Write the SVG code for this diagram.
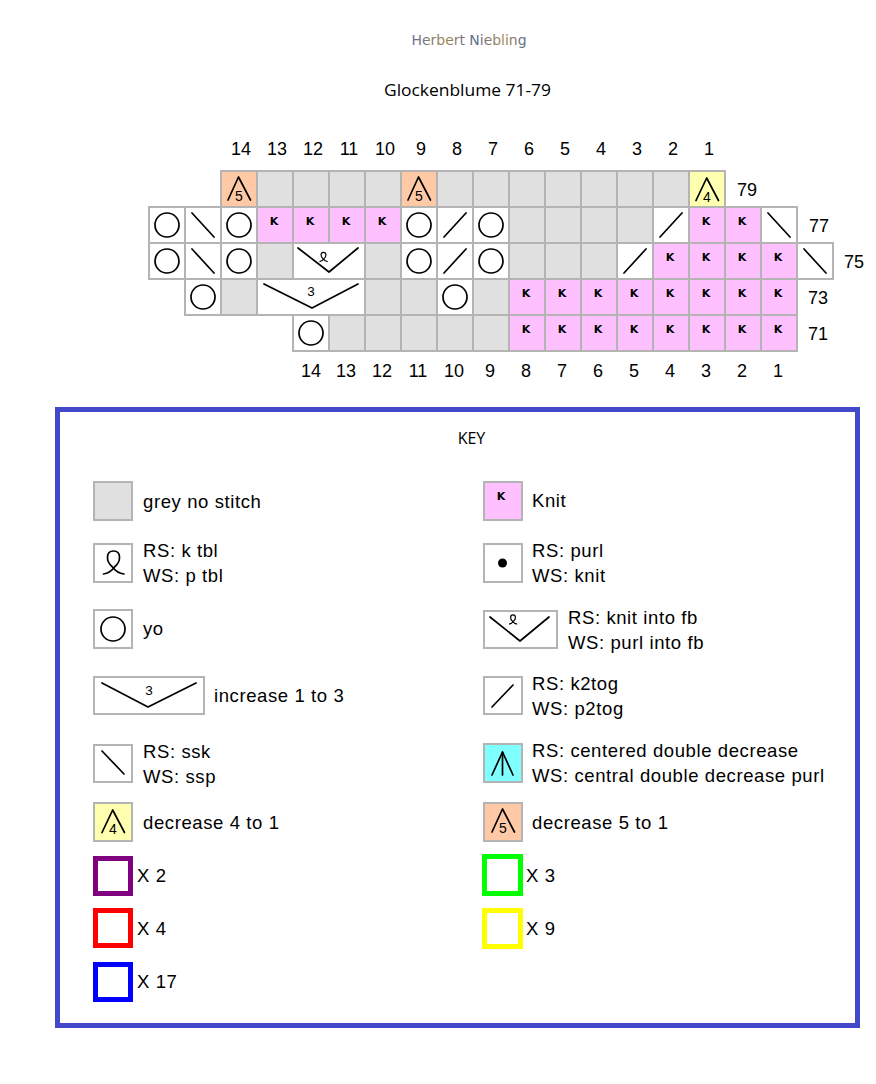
<svg xmlns="http://www.w3.org/2000/svg" xmlns:xlink="http://www.w3.org/1999/xlink" width="876" height="1084" viewBox="0 0 876 1084">
<style>
.c{stroke:#b4b4b4;stroke-width:2}
.w{fill:#fff}.g{fill:#e0e0e0}.p{fill:#ffc0ff}.o{fill:#ffc9a6}.y{fill:#ffffb0}.cy{fill:#80ffff}
.ln{fill:none;stroke:#000;stroke-width:1.7;stroke-linecap:round;stroke-linejoin:round}
.k{font-family:"DejaVu Sans",Verdana,sans-serif;font-size:11px;font-weight:bold;text-anchor:middle;fill:#000}
.dn{font-family:"Liberation Sans",Arial,sans-serif;font-size:14px;text-anchor:middle;fill:#000}
.lbl{font-family:"Liberation Sans",Arial,sans-serif;font-size:18px;fill:#000}
.mid{text-anchor:middle}
.kt{font-family:"Liberation Sans",Arial,sans-serif;font-size:18.5px;letter-spacing:0.6px;fill:#000}
.rep{fill:#fff;stroke-width:5}
</style>
<defs>
<linearGradient id="hn" x1="0" y1="0" x2="1" y2="0">
<stop offset="0" stop-color="#5f7090"/><stop offset="0.3" stop-color="#a0865a"/><stop offset="0.55" stop-color="#5a6c90"/><stop offset="0.8" stop-color="#a8884f"/><stop offset="1" stop-color="#5a6c90"/>
</linearGradient>
<path id="loop" d="M-10,11.5 C-5,11 -1.5,8 1.5,4 C7.5,-1 8,-11.5 0,-11.5 C-8,-11.5 -7.5,-1 -1.5,4 C1.5,8 5,11 10.5,11.5"/>
<g id="s-yo"><circle cx="18" cy="18" r="12" class="ln"/></g>
<g id="s-ssk"><line x1="7" y1="6" x2="29" y2="30" class="ln"/></g>
<g id="s-k2tog"><line x1="7" y1="30" x2="29" y2="6" class="ln"/></g>
<g id="s-k"><text x="17" y="18" class="k">K</text></g>
<g id="s-d5"><polyline points="7,29 17.5,6 29.5,29" class="ln"/><text x="18" y="30" class="dn">5</text></g>
<g id="s-d4"><polyline points="7,29.5 17.7,7 29.5,29.5" class="ln"/><text x="18" y="30.5" class="dn">4</text></g>
</defs>
<rect width="876" height="1084" fill="#fff"/>

<g id="header">
<text x="469" y="45" text-anchor="middle" font-family="DejaVu Sans, sans-serif" font-size="14" textLength="115" lengthAdjust="spacingAndGlyphs" fill="url(#hn)">Herbert Niebling</text>
<text x="467.5" y="96" text-anchor="middle" font-family="Open Sans, sans-serif" font-size="17" textLength="167" lengthAdjust="spacingAndGlyphs" fill="#000">Glockenblume 71-79</text>
</g>

<g id="chart">
<g id="row79">
<rect class="c o" x="221" y="171" width="36" height="36"/><use href="#s-d5" x="221" y="171"/>
<rect class="c g" x="257" y="171" width="36" height="36"/>
<rect class="c g" x="293" y="171" width="36" height="36"/>
<rect class="c g" x="329" y="171" width="36" height="36"/>
<rect class="c g" x="365" y="171" width="36" height="36"/>
<rect class="c o" x="401" y="171" width="36" height="36"/><use href="#s-d5" x="401" y="171"/>
<rect class="c g" x="437" y="171" width="36" height="36"/>
<rect class="c g" x="473" y="171" width="36" height="36"/>
<rect class="c g" x="509" y="171" width="36" height="36"/>
<rect class="c g" x="545" y="171" width="36" height="36"/>
<rect class="c g" x="581" y="171" width="36" height="36"/>
<rect class="c g" x="617" y="171" width="36" height="36"/>
<rect class="c g" x="653" y="171" width="36" height="36"/>
<rect class="c y" x="689" y="171" width="36" height="36"/><use href="#s-d4" x="689" y="171"/>
</g>
<g id="row77">
<rect class="c w" x="149" y="207" width="36" height="36"/><use href="#s-yo" x="149" y="207"/>
<rect class="c w" x="185" y="207" width="36" height="36"/><use href="#s-ssk" x="185" y="207"/>
<rect class="c w" x="221" y="207" width="36" height="36"/><use href="#s-yo" x="221" y="207"/>
<rect class="c p" x="257" y="207" width="36" height="36"/><use href="#s-k" x="257" y="207"/>
<rect class="c p" x="293" y="207" width="36" height="36"/><use href="#s-k" x="293" y="207"/>
<rect class="c p" x="329" y="207" width="36" height="36"/><use href="#s-k" x="329" y="207"/>
<rect class="c p" x="365" y="207" width="36" height="36"/><use href="#s-k" x="365" y="207"/>
<rect class="c w" x="401" y="207" width="36" height="36"/><use href="#s-yo" x="401" y="207"/>
<rect class="c w" x="437" y="207" width="36" height="36"/><use href="#s-k2tog" x="437" y="207"/>
<rect class="c w" x="473" y="207" width="36" height="36"/><use href="#s-yo" x="473" y="207"/>
<rect class="c g" x="509" y="207" width="36" height="36"/>
<rect class="c g" x="545" y="207" width="36" height="36"/>
<rect class="c g" x="581" y="207" width="36" height="36"/>
<rect class="c g" x="617" y="207" width="36" height="36"/>
<rect class="c w" x="653" y="207" width="36" height="36"/><use href="#s-k2tog" x="653" y="207"/>
<rect class="c p" x="689" y="207" width="36" height="36"/><use href="#s-k" x="689" y="207"/>
<rect class="c p" x="725" y="207" width="36" height="36"/><use href="#s-k" x="725" y="207"/>
<rect class="c w" x="761" y="207" width="36" height="36"/><use href="#s-ssk" x="761" y="207"/>
</g>
<g id="row75">
<rect class="c w" x="149" y="243" width="36" height="36"/><use href="#s-yo" x="149" y="243"/>
<rect class="c w" x="185" y="243" width="36" height="36"/><use href="#s-ssk" x="185" y="243"/>
<rect class="c w" x="221" y="243" width="36" height="36"/><use href="#s-yo" x="221" y="243"/>
<rect class="c g" x="257" y="243" width="36" height="36"/>
<rect class="c w" x="293" y="243" width="72" height="36"/>
<polyline points="298,248 329,272 358,248" class="ln"/>
<use href="#loop" transform="translate(323.5,257) scale(0.4)" fill="none" stroke="#000" stroke-width="3"/>
<rect class="c g" x="365" y="243" width="36" height="36"/>
<rect class="c w" x="401" y="243" width="36" height="36"/><use href="#s-yo" x="401" y="243"/>
<rect class="c w" x="437" y="243" width="36" height="36"/><use href="#s-k2tog" x="437" y="243"/>
<rect class="c w" x="473" y="243" width="36" height="36"/><use href="#s-yo" x="473" y="243"/>
<rect class="c g" x="509" y="243" width="36" height="36"/>
<rect class="c g" x="545" y="243" width="36" height="36"/>
<rect class="c g" x="581" y="243" width="36" height="36"/>
<rect class="c w" x="617" y="243" width="36" height="36"/><use href="#s-k2tog" x="617" y="243"/>
<rect class="c p" x="653" y="243" width="36" height="36"/><use href="#s-k" x="653" y="243"/>
<rect class="c p" x="689" y="243" width="36" height="36"/><use href="#s-k" x="689" y="243"/>
<rect class="c p" x="725" y="243" width="36" height="36"/><use href="#s-k" x="725" y="243"/>
<rect class="c p" x="761" y="243" width="36" height="36"/><use href="#s-k" x="761" y="243"/>
<rect class="c w" x="797" y="243" width="36" height="36"/><use href="#s-ssk" x="797" y="243"/>
</g>
<g id="row73">
<rect class="c w" x="185" y="279" width="36" height="36"/><use href="#s-yo" x="185" y="279"/>
<rect class="c g" x="221" y="279" width="36" height="36"/>
<rect class="c w" x="257" y="279" width="108" height="36"/>
<polyline points="264,284 312,308 358,284" class="ln"/>
<text x="311" y="296" class="dn" style="font-size:13.5px">3</text>
<rect class="c g" x="365" y="279" width="36" height="36"/>
<rect class="c g" x="401" y="279" width="36" height="36"/>
<rect class="c w" x="437" y="279" width="36" height="36"/><use href="#s-yo" x="437" y="279"/>
<rect class="c g" x="473" y="279" width="36" height="36"/>
<rect class="c p" x="509" y="279" width="36" height="36"/><use href="#s-k" x="509" y="279"/>
<rect class="c p" x="545" y="279" width="36" height="36"/><use href="#s-k" x="545" y="279"/>
<rect class="c p" x="581" y="279" width="36" height="36"/><use href="#s-k" x="581" y="279"/>
<rect class="c p" x="617" y="279" width="36" height="36"/><use href="#s-k" x="617" y="279"/>
<rect class="c p" x="653" y="279" width="36" height="36"/><use href="#s-k" x="653" y="279"/>
<rect class="c p" x="689" y="279" width="36" height="36"/><use href="#s-k" x="689" y="279"/>
<rect class="c p" x="725" y="279" width="36" height="36"/><use href="#s-k" x="725" y="279"/>
<rect class="c p" x="761" y="279" width="36" height="36"/><use href="#s-k" x="761" y="279"/>
</g>
<g id="row71">
<rect class="c w" x="293" y="315" width="36" height="36"/><use href="#s-yo" x="293" y="315"/>
<rect class="c g" x="329" y="315" width="36" height="36"/>
<rect class="c g" x="365" y="315" width="36" height="36"/>
<rect class="c g" x="401" y="315" width="36" height="36"/>
<rect class="c g" x="437" y="315" width="36" height="36"/>
<rect class="c g" x="473" y="315" width="36" height="36"/>
<rect class="c p" x="509" y="315" width="36" height="36"/><use href="#s-k" x="509" y="315"/>
<rect class="c p" x="545" y="315" width="36" height="36"/><use href="#s-k" x="545" y="315"/>
<rect class="c p" x="581" y="315" width="36" height="36"/><use href="#s-k" x="581" y="315"/>
<rect class="c p" x="617" y="315" width="36" height="36"/><use href="#s-k" x="617" y="315"/>
<rect class="c p" x="653" y="315" width="36" height="36"/><use href="#s-k" x="653" y="315"/>
<rect class="c p" x="689" y="315" width="36" height="36"/><use href="#s-k" x="689" y="315"/>
<rect class="c p" x="725" y="315" width="36" height="36"/><use href="#s-k" x="725" y="315"/>
<rect class="c p" x="761" y="315" width="36" height="36"/><use href="#s-k" x="761" y="315"/>
</g>
<g id="col-labels-top" class="lbl mid">
<text x="241" y="155">14</text><text x="277" y="155">13</text><text x="313" y="155">12</text><text x="349" y="155">11</text><text x="385" y="155">10</text><text x="421" y="155">9</text><text x="457" y="155">8</text><text x="493" y="155">7</text><text x="529" y="155">6</text><text x="565" y="155">5</text><text x="601" y="155">4</text><text x="637" y="155">3</text><text x="673" y="155">2</text><text x="709" y="155">1</text>
</g>
<g id="col-labels-bottom" class="lbl mid">
<text x="311" y="377">14</text><text x="346" y="377">13</text><text x="382" y="377">12</text><text x="418" y="377">11</text><text x="454" y="377">10</text><text x="490" y="377">9</text><text x="526" y="377">8</text><text x="562" y="377">7</text><text x="598" y="377">6</text><text x="634" y="377">5</text><text x="670" y="377">4</text><text x="706" y="377">3</text><text x="742" y="377">2</text><text x="778" y="377">1</text>
</g>
<g id="row-labels" class="lbl">
<text x="737" y="196">79</text>
<text x="809" y="232">77</text>
<text x="844" y="268">75</text>
<text x="808" y="304">73</text>
<text x="808" y="340">71</text>
</g>
</g>

<g id="key">
<rect x="57.5" y="409.5" width="800" height="616" fill="none" stroke="#4347c9" stroke-width="5"/>
<text x="471.5" y="444" text-anchor="middle" font-family="Open Sans, sans-serif" font-size="16" fill="#000">KEY</text>

<g id="key-grey">
<rect class="c g" x="94" y="482" width="38" height="38"/>
<text class="kt" x="143" y="508">grey no stitch</text>
</g>
<g id="key-ktbl">
<rect class="c w" x="94" y="544" width="38" height="38"/>
<use href="#loop" transform="translate(113.5,562.5)" class="ln"/>
<text class="kt" x="143" y="557">RS: k tbl</text>
<text class="kt" x="143" y="582">WS: p tbl</text>
</g>
<g id="key-yo">
<rect class="c w" x="94" y="610" width="38" height="38"/>
<circle cx="113" cy="629" r="12" class="ln"/>
<text class="kt" x="143" y="635">yo</text>
</g>
<g id="key-inc3">
<rect class="c w" x="94" y="677" width="110" height="37"/>
<polyline points="102,683 148,707 196,683" class="ln"/>
<text x="149" y="695" class="dn" style="font-size:13.5px">3</text>
<text class="kt" x="214" y="702">increase 1 to 3</text>
</g>
<g id="key-ssk">
<rect class="c w" x="94" y="745" width="38" height="37"/>
<line x1="102" y1="751" x2="124" y2="774" class="ln"/>
<text class="kt" x="143" y="758">RS: ssk</text>
<text class="kt" x="143" y="783">WS: ssp</text>
</g>
<g id="key-dec4">
<rect class="c y" x="94" y="803" width="38" height="38"/>
<use href="#s-d4" x="95" y="803"/>
<text class="kt" x="143" y="829">decrease 4 to 1</text>
</g>
<g id="key-x2">
<rect class="rep" x="95.5" y="858.5" width="35" height="35" stroke="#800080"/>
<text class="kt" x="137" y="882">X 2</text>
</g>
<g id="key-x4">
<rect class="rep" x="95.5" y="910.5" width="35" height="35" stroke="#ff0000"/>
<text class="kt" x="137" y="935">X 4</text>
</g>
<g id="key-x17">
<rect class="rep" x="95.5" y="964.5" width="35" height="35" stroke="#0000ff"/>
<text class="kt" x="137" y="988">X 17</text>
</g>

<g id="key-knit">
<rect class="c p" x="484" y="482" width="38" height="38"/>
<use href="#s-k" x="484" y="482"/>
<text class="kt" x="532" y="507">Knit</text>
</g>
<g id="key-purl">
<rect class="c w" x="484" y="544" width="38" height="38"/>
<circle cx="502.5" cy="563" r="4.5" fill="#000"/>
<text class="kt" x="532" y="557">RS: purl</text>
<text class="kt" x="532" y="582">WS: knit</text>
</g>
<g id="key-kfb">
<rect class="c w" x="484" y="611" width="73" height="37"/>
<polyline points="490,617 520,641 549,617" class="ln"/>
<use href="#loop" transform="translate(513,619.5) scale(0.4)" fill="none" stroke="#000" stroke-width="3"/>
<text class="kt" x="568" y="624">RS: knit into fb</text>
<text class="kt" x="568" y="649">WS: purl into fb</text>
</g>
<g id="key-k2tog">
<rect class="c w" x="484" y="677" width="38" height="37"/>
<line x1="492" y1="707" x2="513" y2="685" class="ln"/>
<text class="kt" x="532" y="690">RS: k2tog</text>
<text class="kt" x="532" y="715">WS: p2tog</text>
</g>
<g id="key-cdd">
<rect class="c cy" x="484" y="744" width="38" height="38"/>
<polyline points="492,775 502.5,752 513,775" class="ln"/>
<line x1="502.5" y1="752" x2="502.5" y2="775" class="ln"/>
<text class="kt" x="532" y="757">RS: centered double decrease</text>
<text class="kt" x="532" y="782">WS: central double decrease purl</text>
</g>
<g id="key-dec5">
<rect class="c o" x="484" y="803" width="38" height="38"/>
<use href="#s-d5" x="485" y="803"/>
<text class="kt" x="532" y="829">decrease 5 to 1</text>
</g>
<g id="key-x3">
<rect class="rep" x="484.5" y="856.5" width="36" height="37" stroke="#00ff00"/>
<text class="kt" x="526" y="882">X 3</text>
</g>
<g id="key-x9">
<rect class="rep" x="484.5" y="910.5" width="36" height="36" stroke="#ffff00"/>
<text class="kt" x="526" y="935">X 9</text>
</g>
</g>
</svg>
